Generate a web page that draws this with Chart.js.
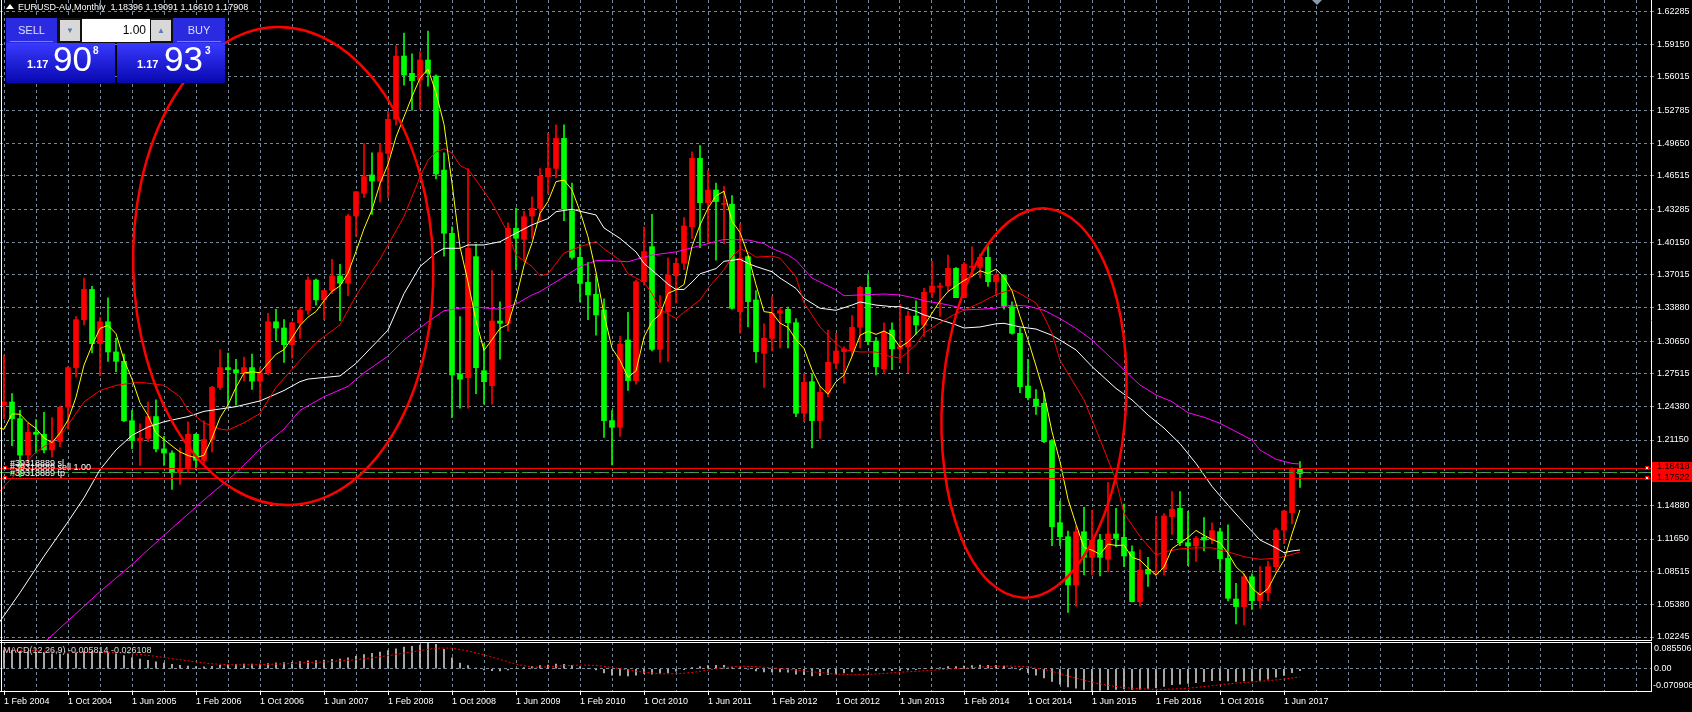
<!DOCTYPE html>
<html>
<head>
<meta charset="utf-8">
<title>EURUSD-AU,Monthly</title>
<script src="https://cdn.jsdelivr.net/npm/chart.js@4.4.1/dist/chart.umd.min.js"></script>
<style>
    html, body { margin: 0; padding: 0; background: #000; }
    body { position: relative; width: 1692px; height: 712px; overflow: hidden; font-family: "Liberation Sans", Arial, sans-serif; }
    canvas { position: absolute; left: 0; }
    #mainChart { top: 0; }
    #macdChart { top: 642px; }
    .hline { position: absolute; left: 0; width: 1652px; height: 1px; background: #fff; }
    .vline { position: absolute; left: 1px; top: 0; width: 1px; height: 691px; background: #fff; }
    .title { position: absolute; left: 18px; top: 2px; color: #fff; font-size: 9px; white-space: pre; }
    .tri { position: absolute; left: 6px; top: 4px; width: 0; height: 0; border-left: 4px solid transparent; border-right: 4px solid transparent; border-bottom: 5px solid #fff; }
    .marker { position: absolute; left: 1312px; top: 0; width: 0; height: 0; border-left: 5px solid transparent; border-right: 5px solid transparent; border-top: 5px solid #8a99ab; }
    /* one click trading panel */
    .oct { position: absolute; left: 6px; top: 18px; width: 219px; height: 65px; }
    .hdr { position: absolute; top: 0; height: 25px; background: #2a2ae0; color: #dcdcff; font-size: 11px; text-align: center; line-height: 25px; }
    .hdr i { position: absolute; left: 4px; right: 4px; bottom: 1px; height: 1px; background: #7b7bff; }
    .lot { position: absolute; left: 51px; top: 0; width: 116px; height: 25px; background: #101010; }
    .lot .btn { position: absolute; top: 2px; width: 20px; height: 21px; background: #d8d8d8; color: #5a7ab0; font-size: 8px; text-align: center; line-height: 21px; }
    .lot .val { position: absolute; left: 25px; top: 1px; width: 64px; height: 23px; background: #fff; color: #000; font-size: 12px; text-align: right; line-height: 23px; padding-right: 4px; }
    .px { position: absolute; top: 25px; height: 40px; background: linear-gradient(#3a3aff, #0707b0); color: #fff; }
    .px .s { position: absolute; top: 15px; font-size: 11px; font-weight: bold; }
    .px .b { position: absolute; top: -4px; font-size: 35px; }
    .px .u { position: absolute; top: 2px; font-size: 10px; font-weight: bold; }
</style>
</head>
<body>
<canvas id="mainChart" width="1692" height="640"></canvas>
<canvas id="macdChart" width="1692" height="70"></canvas>
<div class="hline" style="top:640px"></div>
<div class="vline"></div>
<div class="tri"></div>
<div class="title">EURUSD-AU,Monthly  1.18396 1.19091 1.16610 1.17908</div>
<div class="marker"></div>
<div class="oct">
    <div class="hdr" style="left:0;width:51px">SELL<i></i></div>
    <div class="lot">
        <div class="btn" style="left:3px">&#9660;</div>
        <div class="val">1.00</div>
        <div class="btn" style="left:94px">&#9650;</div>
    </div>
    <div class="hdr" style="left:167px;width:52px">BUY<i></i></div>
    <div class="px" style="left:0;width:109px">
        <span class="s" style="left:21px">1.17</span><span class="b" style="left:47px">90</span><span class="u" style="left:87px">8</span>
    </div>
    <div class="px" style="left:111px;width:108px">
        <span class="s" style="left:20px">1.17</span><span class="b" style="left:47px">93</span><span class="u" style="left:88px">3</span>
    </div>
</div>
<script>
// Monthly EURUSD candles, first bar = Feb 2004 (month index 0)
const firstYear = 2004;
const firstMonth = 1; // February, zero based
const monthNames = ["Jan", "Feb", "Mar", "Apr", "May", "Jun", "Jul", "Aug", "Sep", "Oct", "Nov", "Dec"];

const opens = [
    1.2450, 1.2480, 1.2320, 1.1970, 1.2190, 1.2170, 1.2020, 1.2100, 1.2430, 1.2810, 1.3270,
    1.3560, 1.3040, 1.3250, 1.2960, 1.2870, 1.2300, 1.2110, 1.2130, 1.2340, 1.2030, 1.1990, 1.1800,
    1.1840, 1.2170, 1.1920, 1.2120, 1.2620, 1.2810, 1.2790, 1.2760, 1.2810, 1.2680, 1.2760, 1.3250,
    1.3190, 1.3030, 1.3240, 1.3360, 1.3650, 1.3460, 1.3550, 1.3690, 1.3620, 1.4265, 1.4483, 1.4659,
    1.4600, 1.4866, 1.5193, 1.5800, 1.5634, 1.5570, 1.5762, 1.5608, 1.4706, 1.4099, 1.2748, 1.2714,
    1.3875, 1.2780, 1.2636, 1.3257, 1.3235, 1.4147, 1.4041, 1.4265, 1.4338, 1.4642, 1.4722, 1.5010,
    1.4316, 1.3868, 1.3628, 1.3513, 1.3363, 1.2301, 1.2237, 1.3075, 1.2685, 1.3635, 1.3971, 1.2985,
    1.3347, 1.3692, 1.3811, 1.4162, 1.4818, 1.4393, 1.4514, 1.4377, 1.4379, 1.3347, 1.3875, 1.3459,
    1.2947, 1.3091, 1.3331, 1.3369, 1.3241, 1.2371, 1.2675, 1.2301, 1.2573, 1.2851, 1.2963, 1.2979,
    1.3197, 1.3580, 1.3065, 1.2797, 1.3171, 1.2990, 1.3011, 1.3305, 1.3219, 1.3533, 1.3580, 1.3593,
    1.3763, 1.3481, 1.3772, 1.3772, 1.3868, 1.3634, 1.3699, 1.3395, 1.3139, 1.2633, 1.2508, 1.2467,
    1.2109, 1.1322, 1.1187, 1.0724, 1.1235, 1.0989, 1.1155, 1.0970, 1.1213, 1.1181, 1.1043, 1.0563,
    1.0874, 1.0829, 1.0874, 1.1379, 1.1459, 1.1130, 1.1098, 1.1181, 1.1162, 1.1235, 1.0980, 1.0589,
    1.0516, 1.0803, 1.0573, 1.0650, 1.0899, 1.1251, 1.1418, 1.18396
];
const highs = [
    1.2930, 1.2560, 1.2400, 1.2280, 1.2310, 1.2380, 1.2330, 1.2440, 1.2820, 1.3300, 1.3670,
    1.3590, 1.3290, 1.3480, 1.3090, 1.2940, 1.2400, 1.2270, 1.2480, 1.2500, 1.2150, 1.2010, 1.2040,
    1.2290, 1.2180, 1.2300, 1.2630, 1.2980, 1.2950, 1.2890, 1.2910, 1.2940, 1.2810, 1.3330, 1.3370,
    1.3270, 1.3250, 1.3380, 1.3680, 1.3660, 1.3550, 1.3850, 1.3800, 1.4280, 1.4500, 1.4960, 1.4870,
    1.4960, 1.5270, 1.5900, 1.6020, 1.5820, 1.5840, 1.6040, 1.5620, 1.4870, 1.4160, 1.3300, 1.4720,
    1.3990, 1.3040, 1.3740, 1.3440, 1.4200, 1.4340, 1.4310, 1.4450, 1.4720, 1.5060, 1.5140, 1.5140,
    1.4580, 1.3990, 1.3820, 1.3690, 1.3470, 1.2397, 1.3110, 1.3340, 1.3650, 1.4160, 1.4280, 1.3500,
    1.3860, 1.3860, 1.4250, 1.4880, 1.4940, 1.4700, 1.4580, 1.4550, 1.4460, 1.4190, 1.3880, 1.3550,
    1.3230, 1.3490, 1.3380, 1.3390, 1.3280, 1.2750, 1.2750, 1.2630, 1.3170, 1.3140, 1.3010, 1.3310,
    1.3590, 1.3710, 1.3100, 1.3240, 1.3240, 1.3420, 1.3350, 1.3450, 1.3570, 1.3830, 1.3620, 1.3890,
    1.3770, 1.3820, 1.3970, 1.3900, 1.3990, 1.3710, 1.3700, 1.3440, 1.3190, 1.2890, 1.2600, 1.2570,
    1.2120, 1.1530, 1.1240, 1.1290, 1.1470, 1.1440, 1.1210, 1.1710, 1.1460, 1.1500, 1.1100, 1.1060,
    1.0990, 1.1380, 1.1410, 1.1620, 1.1620, 1.1430, 1.1190, 1.1370, 1.1320, 1.1270, 1.1300, 1.0740,
    1.0830, 1.0830, 1.0900, 1.0950, 1.1270, 1.1440, 1.1850, 1.19091
];
const lows = [
    1.2320, 1.2060, 1.1760, 1.1900, 1.1990, 1.1990, 1.1950, 1.2050, 1.2220, 1.2720, 1.3220,
    1.2950, 1.2730, 1.2870, 1.2770, 1.2290, 1.2030, 1.1870, 1.2100, 1.2000, 1.1870, 1.1640, 1.1690,
    1.1800, 1.1830, 1.1890, 1.2000, 1.2600, 1.2450, 1.2450, 1.2680, 1.2600, 1.2480, 1.2740, 1.3070,
    1.2860, 1.2900, 1.3090, 1.3320, 1.3410, 1.3270, 1.3520, 1.3260, 1.3500, 1.4070, 1.4440, 1.4280,
    1.4400, 1.4440, 1.5140, 1.5520, 1.5280, 1.5290, 1.5510, 1.4620, 1.3880, 1.2330, 1.2420, 1.2420,
    1.2560, 1.2460, 1.2460, 1.2890, 1.3160, 1.3750, 1.3830, 1.4050, 1.4210, 1.4480, 1.4630, 1.4220,
    1.3850, 1.3440, 1.3270, 1.3120, 1.2140, 1.1875, 1.2150, 1.2590, 1.2650, 1.3600, 1.2970, 1.2860,
    1.2870, 1.3430, 1.3750, 1.4050, 1.3960, 1.4000, 1.3840, 1.4000, 1.3370, 1.3140, 1.3200, 1.2860,
    1.2620, 1.2970, 1.3000, 1.3000, 1.2340, 1.2290, 1.2040, 1.2130, 1.2530, 1.2800, 1.2660, 1.2920,
    1.3000, 1.3030, 1.2740, 1.2750, 1.2790, 1.2860, 1.2760, 1.3130, 1.3110, 1.3480, 1.3300, 1.3540,
    1.3480, 1.3480, 1.3700, 1.3670, 1.3590, 1.3500, 1.3370, 1.3130, 1.2570, 1.2500, 1.2360, 1.2090,
    1.1100, 1.1100, 1.0460, 1.0520, 1.0820, 1.0820, 1.0810, 1.0850, 1.1090, 1.0900, 1.0560, 1.0520,
    1.0710, 1.0810, 1.0820, 1.1210, 1.1100, 1.0910, 1.0950, 1.1050, 1.1120, 1.0850, 1.0570, 1.0350,
    1.0340, 1.0490, 1.0500, 1.0570, 1.0840, 1.1120, 1.1310, 1.16610
];
const closes = [
    1.2480, 1.2320, 1.1970, 1.2190, 1.2170, 1.2020, 1.2100, 1.2430, 1.2810, 1.3270, 1.3560,
    1.3040, 1.3250, 1.2960, 1.2870, 1.2300, 1.2110, 1.2130, 1.2340, 1.2030, 1.1990, 1.1800, 1.1840,
    1.2170, 1.1920, 1.2120, 1.2620, 1.2810, 1.2790, 1.2760, 1.2810, 1.2680, 1.2760, 1.3250, 1.3190,
    1.3030, 1.3240, 1.3360, 1.3650, 1.3460, 1.3550, 1.3690, 1.3620, 1.4265, 1.4498, 1.4643, 1.4600,
    1.4873, 1.5193, 1.5800, 1.5618, 1.5564, 1.5762, 1.5634, 1.4668, 1.4099, 1.2739, 1.2698, 1.3955,
    1.2809, 1.2675, 1.3257, 1.3235, 1.4147, 1.4051, 1.4258, 1.4338, 1.4649, 1.4722, 1.5010, 1.4329,
    1.3868, 1.3618, 1.3507, 1.3315, 1.2301, 1.2237, 1.3036, 1.2685, 1.3635, 1.3923, 1.2985, 1.3369,
    1.3699, 1.3811, 1.4169, 1.4818, 1.4393, 1.4514, 1.4403, 1.4380, 1.3379, 1.3859, 1.3443, 1.2963,
    1.3091, 1.3331, 1.3356, 1.3241, 1.2371, 1.2669, 1.2301, 1.2573, 1.2861, 1.2969, 1.2988, 1.3197,
    1.3580, 1.3059, 1.2819, 1.3149, 1.2990, 1.3011, 1.3305, 1.3219, 1.3533, 1.3593, 1.3593, 1.3763,
    1.3481, 1.3801, 1.3780, 1.3868, 1.3634, 1.3699, 1.3401, 1.3139, 1.2627, 1.2521, 1.2441, 1.2099,
    1.1283, 1.1187, 1.0724, 1.1235, 1.0989, 1.1155, 1.0989, 1.1213, 1.1171, 1.1002, 1.0563, 1.0867,
    1.0829, 1.0835, 1.1386, 1.1450, 1.1130, 1.1098, 1.1171, 1.1155, 1.1245, 1.0976, 1.0596, 1.0516,
    1.0803, 1.0573, 1.0650, 1.0899, 1.1251, 1.1434, 1.1843, 1.17908
];

// Yellow moving average, one value per month starting at Jan 2004 (index -1)
const yellowMa = [
    1.2240, 1.2218, 1.2366, 1.2362, 1.2282, 1.2226, 1.2134, 1.2090, 1.2182, 1.2306, 1.2526, 1.2834,
    1.3022, 1.3186, 1.3216, 1.3136, 1.2884, 1.2698, 1.2474, 1.2350, 1.2182, 1.2120, 1.2058, 1.2000,
    1.1966, 1.1944, 1.1970, 1.2134, 1.2328, 1.2452, 1.2620, 1.2758, 1.2770, 1.2760, 1.2852, 1.2938,
    1.2982, 1.3094, 1.3214, 1.3294, 1.3348, 1.3452, 1.3542, 1.3594, 1.3717, 1.3925, 1.4143, 1.4325,
    1.4576, 1.4761, 1.5022, 1.5217, 1.5410, 1.5587, 1.5676, 1.5449, 1.5145, 1.4580, 1.3968, 1.3632,
    1.3260, 1.2975, 1.3079, 1.3186, 1.3225, 1.3473, 1.3790, 1.4006, 1.4289, 1.4404, 1.4595, 1.4610,
    1.4516, 1.4309, 1.4066, 1.3727, 1.3322, 1.2996, 1.2879, 1.2715, 1.2779, 1.3103, 1.3253, 1.3319,
    1.3522, 1.3557, 1.3607, 1.3973, 1.4178, 1.4341, 1.4459, 1.4502, 1.4214, 1.4107, 1.3893, 1.3605,
    1.3347, 1.3337, 1.3237, 1.3196, 1.3078, 1.2994, 1.2788, 1.2631, 1.2555, 1.2675, 1.2738, 1.2918,
    1.3119, 1.3159, 1.3129, 1.3161, 1.3119, 1.3006, 1.3055, 1.3135, 1.3212, 1.3332, 1.3449, 1.3540,
    1.3593, 1.3646, 1.3684, 1.3739, 1.3713, 1.3756, 1.3676, 1.3548, 1.3300, 1.3077, 1.2826, 1.2565,
    1.2194, 1.1906, 1.1547, 1.1306, 1.1084, 1.1058, 1.1018, 1.1116, 1.1103, 1.1106, 1.0988, 1.0963,
    1.0886, 1.0819, 1.0896, 1.1073, 1.1126, 1.1180, 1.1247, 1.1201, 1.1160, 1.1129, 1.1029, 1.0898,
    1.0827, 1.0693, 1.0628, 1.0688, 1.0835, 1.0961, 1.1215, 1.1444
];

// Slower averages at the listed month indexes
const redMaMonths = [-1, 0, 4, 7, 10, 12, 14, 17, 20, 22, 23, 25, 27, 28, 30, 32, 34, 37, 39, 42, 44, 47, 50, 52, 53, 54, 55, 56, 57, 58, 59, 61, 63, 64, 66, 67, 68, 70, 71, 72, 74, 75, 77, 78, 80, 81, 82, 84, 85, 87, 88, 90, 91, 92, 93, 94, 96, 97, 99, 100, 102, 104, 105, 107, 109, 110, 112, 113, 114, 115, 117, 119, 120, 122, 124, 126, 127, 129, 130, 131, 132, 135, 137, 139, 140, 142, 144, 145, 147, 149, 151, 152, 154, 155, 157, 159, 160, 162];
const redMaValues = [1.158, 1.167, 1.200, 1.215, 1.248, 1.259, 1.264, 1.267, 1.264, 1.253, 1.240, 1.228, 1.222, 1.221, 1.228, 1.237, 1.262, 1.288, 1.305, 1.322, 1.350, 1.385, 1.426, 1.464, 1.480, 1.488, 1.491, 1.487, 1.475, 1.471, 1.461, 1.439, 1.410, 1.389, 1.378, 1.369, 1.371, 1.391, 1.394, 1.397, 1.402, 1.395, 1.384, 1.371, 1.363, 1.352, 1.337, 1.328, 1.334, 1.346, 1.357, 1.375, 1.387, 1.395, 1.392, 1.387, 1.388, 1.386, 1.368, 1.343, 1.320, 1.304, 1.298, 1.296, 1.296, 1.293, 1.290, 1.296, 1.303, 1.314, 1.324, 1.333, 1.336, 1.343, 1.351, 1.356, 1.352, 1.343, 1.330, 1.314, 1.288, 1.250, 1.212, 1.173, 1.141, 1.119, 1.101, 1.104, 1.107, 1.108, 1.108, 1.106, 1.102, 1.0995, 1.097, 1.098, 1.0995, 1.104];

const whiteMaMonths = [-1, 2, 5, 8, 10, 12, 14, 16, 18, 20, 23, 25, 29, 32, 35, 37, 38, 42, 44, 48, 50, 52, 54, 55, 57, 58, 60, 62, 64, 66, 68, 69, 71, 72, 74, 75, 77, 79, 80, 82, 83, 84, 85, 86, 87, 89, 90, 92, 93, 94, 96, 97, 99, 100, 102, 104, 106, 107, 109, 111, 112, 114, 115, 117, 119, 120, 122, 124, 125, 127, 129, 131, 134, 136, 139, 141, 143, 145, 147, 149, 151, 153, 155, 157, 159, 160, 161, 162];
const whiteMaValues = [1.032, 1.065, 1.100, 1.133, 1.156, 1.183, 1.202, 1.216, 1.224, 1.229, 1.234, 1.239, 1.2435, 1.249, 1.259, 1.2675, 1.270, 1.273, 1.285, 1.317, 1.352, 1.378, 1.391, 1.3955, 1.3955, 1.3987, 1.3987, 1.4018, 1.410, 1.418, 1.424, 1.4306, 1.433, 1.431, 1.4275, 1.415, 1.405, 1.392, 1.381, 1.368, 1.361, 1.356, 1.356, 1.363, 1.371, 1.376, 1.383, 1.385, 1.381, 1.378, 1.373, 1.367, 1.357, 1.3475, 1.338, 1.336, 1.341, 1.344, 1.341, 1.3395, 1.3395, 1.335, 1.3315, 1.327, 1.322, 1.319, 1.320, 1.323, 1.3235, 1.320, 1.318, 1.312, 1.298, 1.282, 1.261, 1.250, 1.2355, 1.223, 1.208, 1.189, 1.167, 1.149, 1.132, 1.1155, 1.108, 1.1034, 1.105, 1.106];

const magentaMaMonths = [-1, 4, 8, 12, 16, 20, 25, 29, 32, 35, 37, 40, 43, 45, 48, 50, 53, 55, 57, 59, 62, 64, 66, 67, 70, 72, 74, 75, 78, 80, 81, 84, 85, 88, 90, 93, 95, 96, 98, 99, 101, 104, 105, 107, 110, 112, 114, 115, 117, 119, 120, 122, 124, 126, 128, 130, 132, 134, 136, 138, 140, 142, 144, 146, 148, 150, 152, 154, 156, 157, 159, 161, 162];
const magentaMaValues = [0.985, 1.010, 1.038, 1.066, 1.092, 1.120, 1.154, 1.180, 1.203, 1.222, 1.240, 1.253, 1.263, 1.276, 1.292, 1.3075, 1.325, 1.3356, 1.338, 1.339, 1.337, 1.342, 1.3507, 1.354, 1.368, 1.378, 1.3836, 1.384, 1.3826, 1.387, 1.389, 1.392, 1.394, 1.400, 1.404, 1.4035, 1.400, 1.3954, 1.389, 1.384, 1.367, 1.3555, 1.350, 1.3507, 1.3516, 1.3507, 1.3475, 1.345, 1.3427, 1.3395, 1.3363, 1.337, 1.338, 1.341, 1.340, 1.336, 1.328, 1.3187, 1.3075, 1.293, 1.2787, 1.2643, 1.2547, 1.2483, 1.2377, 1.2333, 1.2275, 1.2195, 1.2115, 1.2019, 1.193, 1.189, 1.1885];

// MACD(12,26,9): main line as histogram (one per month) and signal every 2 months
const macdMain = [
    0.058, 0.058, 0.056, 0.054, 0.052, 0.050, 0.048, 0.047, 0.048, 0.051,
    0.055, 0.056, 0.055, 0.052, 0.048, 0.042, 0.036, 0.031, 0.027, 0.022,
    0.018, 0.014, 0.011, 0.009, 0.007, 0.006, 0.008, 0.011, 0.013, 0.014,
    0.015, 0.015, 0.015, 0.017, 0.019, 0.020, 0.021, 0.023, 0.025, 0.026,
    0.028, 0.030, 0.031, 0.035, 0.040, 0.045, 0.049, 0.053, 0.058, 0.064,
    0.069, 0.072, 0.076, 0.0855, 0.078, 0.062, 0.035, 0.018, 0.010, 0.002,
    -0.004, -0.006, -0.007, -0.004, 0.000, 0.004, 0.007, 0.010, 0.012, 0.015,
    0.014, 0.011, 0.006, 0.001, -0.004, -0.013, -0.020, -0.021, -0.023, -0.020,
    -0.015, -0.017, -0.015, -0.012, -0.008, -0.003, 0.004, 0.007, 0.010, 0.011,
    0.011, 0.004, 0.003, -0.001, -0.007, -0.010, -0.010, -0.010, -0.011, -0.017,
    -0.019, -0.023, -0.022, -0.019, -0.016, -0.013, -0.010, -0.005, -0.004, -0.006,
    -0.005, -0.006, -0.006, -0.004, -0.003, 0.000, 0.003, 0.004, 0.007, 0.007,
    0.009, 0.010, 0.012, 0.011, 0.011, 0.009, 0.004, -0.004, -0.012, -0.020,
    -0.029, -0.040, -0.049, -0.058, -0.062, -0.066, -0.0709, -0.069, -0.067, -0.066,
    -0.064, -0.066, -0.065, -0.063, -0.061, -0.056, -0.051, -0.049, -0.047, -0.044,
    -0.041, -0.038, -0.037, -0.039, -0.040, -0.039, -0.039, -0.037, -0.033, -0.027,
    -0.021, -0.012, -0.005814
];
const macdSignal = [
    0.060, 0.059, 0.058, 0.056, 0.054, 0.053, 0.053, 0.052, 0.048, 0.043,
    0.036, 0.029, 0.022, 0.016, 0.013, 0.012, 0.013, 0.015, 0.017, 0.020,
    0.022, 0.025, 0.029, 0.035, 0.042, 0.050, 0.058, 0.066, 0.066, 0.057,
    0.044, 0.030, 0.015, 0.005, 0.006, 0.010, 0.012, 0.011, 0.004, -0.004,
    -0.011, -0.016, -0.016, -0.012, -0.004, 0.004, 0.008, 0.007, 0.003, -0.002,
    -0.007, -0.012, -0.017, -0.019, -0.018, -0.015, -0.011, -0.008, -0.005, -0.001,
    0.002, 0.005, 0.008, 0.009, 0.006, -0.002, -0.015, -0.030, -0.043, -0.053,
    -0.060, -0.064, -0.066, -0.065, -0.062, -0.057, -0.051, -0.046, -0.042, -0.038,
    -0.033, -0.026108
];

// Price axis labels and objects on the chart
const priceTicks = [1.62285, 1.59150, 1.56015, 1.52785, 1.49650, 1.46515, 1.43285, 1.40150, 1.37015, 1.33880, 1.30650, 1.27515, 1.24380, 1.21150, 1.18015, 1.14880, 1.11650, 1.08515, 1.05380, 1.02245];
const macdTicks = [0.085506, 0, -0.070908];
const stopLoss = 1.18418;
const takeProfit = 1.17522;
const orderPrice = 1.1812;
const orderTicket = "#39318889";
// ellipses: centre month, centre price, half width in months, half height in price, tilt
const ellipseMonths = [34.9, 128.75];
const ellipsePrices = [1.3785, 1.2470];
const ellipseHalfMonths = [18.75, 11.5];
const ellipseHalfPrices = [0.2294, 0.1871];
const ellipseTilts = [-0.03, 0.06];

const gridColor = "#778899";
const axisFont = { family: "Liberation Sans, Arial, sans-serif", size: 9 };
const xMin = -0.5;
const xMax = 205.875;
const gridMonths = [];
for (let m = 0; m <= 204; m += 4) gridMonths.push(m);

function monthLabel(m) {
    const total = firstMonth + m;
    return "1 " + monthNames[total % 12] + " " + (firstYear + Math.floor(total / 12));
}

function fixWidth(scale) {
    scale.width = 41;
    scale.paddingTop = 0;
    scale.paddingBottom = 0;
}

// draws ellipses, order lines and labels on top of the candles
const mainOverlay = {
    id: "mainOverlay",
    afterDatasetsDraw(chart) {
        const { ctx, chartArea: a, scales: { x, y } } = chart;
        ctx.save();
        ctx.beginPath();
        ctx.rect(a.left, a.top, a.right - a.left, a.bottom - a.top);
        ctx.clip();

        // order levels
        const yOrder = y.getPixelForValue(orderPrice);
        ctx.strokeStyle = "#2fa52f";
        ctx.lineWidth = 1;
        ctx.setLineDash([6, 3]);
        ctx.beginPath();
        ctx.moveTo(a.left, Math.round(yOrder) + 0.5);
        ctx.lineTo(a.right, Math.round(yOrder) + 0.5);
        ctx.stroke();
        ctx.setLineDash([]);
        ctx.strokeStyle = "#ff0000";
        [stopLoss, takeProfit].forEach(function (p) {
            const yy = Math.round(y.getPixelForValue(p)) + 0.5;
            ctx.beginPath();
            ctx.moveTo(a.left, yy);
            ctx.lineTo(a.right, yy);
            ctx.stroke();
        });
        [stopLoss, takeProfit].forEach(function (p) {
            const yy = Math.round(y.getPixelForValue(p));
            [a.left + 3, a.right - 6].forEach(function (xx) {
                ctx.fillStyle = "#ffffff";
                ctx.fillRect(xx, yy - 2, 4, 4);
                ctx.strokeStyle = "#ff0000";
                ctx.strokeRect(xx + 0.5, yy - 1.5, 3, 3);
            });
        });
        ctx.font = "9px Liberation Sans, Arial, sans-serif";
        ctx.fillStyle = "#ffffff";
        ctx.textBaseline = "alphabetic";
        ctx.fillText(orderTicket + " sl", a.left + 10, y.getPixelForValue(stopLoss) - 2);
        ctx.fillText(orderTicket + " sell 1.00", a.left + 10, yOrder - 2);
        ctx.fillText(orderTicket + " tp", a.left + 10, y.getPixelForValue(takeProfit) - 2);

        // hand drawn ellipses
        ctx.strokeStyle = "#ff0000";
        ctx.lineWidth = 2.5;
        ellipseMonths.forEach(function (m, i) {
            const cx = x.getPixelForValue(m);
            const cy = y.getPixelForValue(ellipsePrices[i]);
            const rx = x.getPixelForValue(m + ellipseHalfMonths[i]) - cx;
            const ry = cy - y.getPixelForValue(ellipsePrices[i] + ellipseHalfPrices[i]);
            ctx.beginPath();
            ctx.ellipse(cx, cy, rx, ry, ellipseTilts[i], 0, Math.PI * 2);
            ctx.stroke();
        });
        ctx.restore();
    },
    afterDraw(chart) {
        const { ctx, chartArea: a, scales: { y } } = chart;
        ctx.save();
        const ySl = Math.round(y.getPixelForValue(stopLoss));
        const yTp = Math.round(y.getPixelForValue(takeProfit));
        ctx.fillStyle = "#ff0000";
        ctx.fillRect(a.right + 1, ySl - 6, 41, yTp - ySl + 10);
        ctx.fillStyle = "#000000";
        ctx.font = "9px Liberation Sans, Arial, sans-serif";
        ctx.textBaseline = "middle";
        ctx.fillText(stopLoss.toFixed(5), a.right + 6, ySl - 1);
        ctx.fillText(takeProfit.toFixed(5), a.right + 6, yTp + 0);
        ctx.restore();
    },
};

const macdOverlay = {
    id: "macdOverlay",
    afterDraw(chart) {
        const { ctx, chartArea: a } = chart;
        ctx.save();
        ctx.strokeStyle = "#ffffff";
        ctx.lineWidth = 1;
        ctx.beginPath();
        ctx.moveTo(0, a.top + 0.5);
        ctx.lineTo(a.right, a.top + 0.5);
        ctx.stroke();
        ctx.font = "9px Liberation Sans, Arial, sans-serif";
        ctx.fillStyle = "#ffffff";
        ctx.textBaseline = "middle";
        ctx.fillText(macdTicks[0].toFixed(6), a.right + 3, a.top + 7);
        ctx.fillText("0.00", a.right + 3, chart.scales.y.getPixelForValue(0));
        ctx.fillText(macdTicks[2].toFixed(6), a.right + 2, a.bottom - 5);
        ctx.fillStyle = "#d8d8d8";
        ctx.fillText("MACD(12,26,9) " + macdMain[macdMain.length - 1].toFixed(6) + " " + macdSignal[macdSignal.length - 1].toFixed(6), a.left + 3, a.top + 9);
        ctx.restore();
    },
};

function buildMainChart() {
    const ctx = document.getElementById("mainChart");
    const candleColors = closes.map((c, i) => (c >= opens[i] ? "#ff0000" : "#00ff00"));
    new Chart(ctx, {
        type: "bar",
        data: {
            datasets: [
                {
                    type: "line",
                    data: yellowMa.map((v, i) => ({ x: i - 1, y: v })),
                    borderColor: "#ffff00",
                    borderWidth: 1,
                    pointRadius: 0,
                    order: 0,
                },
                {
                    type: "line",
                    data: redMaMonths.map((m, i) => ({ x: m, y: redMaValues[i] })),
                    borderColor: "#ff0000",
                    borderWidth: 1,
                    pointRadius: 0,
                    order: 0,
                },
                {
                    type: "line",
                    data: whiteMaMonths.map((m, i) => ({ x: m, y: whiteMaValues[i] })),
                    borderColor: "#ffffff",
                    borderWidth: 1,
                    pointRadius: 0,
                    order: 0,
                },
                {
                    type: "line",
                    data: magentaMaMonths.map((m, i) => ({ x: m, y: magentaMaValues[i] })),
                    borderColor: "#ff00ff",
                    borderWidth: 1,
                    pointRadius: 0,
                    order: 0,
                },
                {
                    // candle wicks
                    data: highs.map((h, i) => ({ x: i, y: [lows[i], h] })),
                    backgroundColor: candleColors,
                    barThickness: 1,
                    grouped: false,
                    order: 2,
                },
                {
                    // candle bodies
                    data: opens.map((o, i) => ({ x: i, y: [o, closes[i]] })),
                    backgroundColor: candleColors,
                    barThickness: 5,
                    minBarLength: 1,
                    grouped: false,
                    order: 1,
                },
            ],
        },
        options: {
            responsive: false,
            animation: false,
            layout: { padding: 0 },
            plugins: { legend: { display: false }, tooltip: { enabled: false } },
            scales: {
                x: {
                    type: "linear",
                    min: xMin,
                    max: xMax,
                    offset: false,
                    afterBuildTicks: (s) => { s.ticks = gridMonths.map((v) => ({ value: v })); },
                    ticks: { display: false },
                    grid: { color: gridColor, drawTicks: false, offset: false },
                    border: { display: false, dash: [3, 3] },
                    afterFit: (s) => { s.height = 0; s.paddingLeft = 0; s.paddingRight = 0; },
                },
                y: {
                    position: "right",
                    min: 1.019571,
                    max: 1.633779,
                    afterBuildTicks: (s) => { s.ticks = priceTicks.map((v) => ({ value: v })); },
                    ticks: {
                        color: "#ffffff",
                        font: axisFont,
                        padding: 3,
                        autoSkip: false,
                        callback: (v) => v.toFixed(5),
                    },
                    grid: { color: gridColor, tickLength: 3, tickColor: gridColor },
                    border: { color: "#ffffff", dash: [3, 3] },
                    afterFit: fixWidth,
                },
            },
        },
        plugins: [mainOverlay],
    });
}

function buildMacdChart() {
    const ctx = document.getElementById("macdChart");
    new Chart(ctx, {
        type: "bar",
        data: {
            datasets: [
                {
                    type: "line",
                    data: macdSignal.map((v, i) => ({ x: i * 2, y: v })),
                    borderColor: "#ff0000",
                    borderWidth: 1,
                    borderDash: [2, 2],
                    pointRadius: 0,
                    order: 0,
                },
                {
                    data: macdMain.map((v, i) => ({ x: i, y: v })),
                    backgroundColor: "#c8c8c8",
                    barThickness: 1,
                    grouped: false,
                    order: 1,
                },
            ],
        },
        options: {
            responsive: false,
            animation: false,
            layout: { padding: 0 },
            plugins: { legend: { display: false }, tooltip: { enabled: false } },
            scales: {
                x: {
                    type: "linear",
                    min: xMin,
                    max: xMax,
                    offset: false,
                    afterBuildTicks: (s) => { s.ticks = gridMonths.map((v) => ({ value: v })); },
                    ticks: {
                        color: "#ffffff",
                        font: axisFont,
                        align: "start",
                        padding: 1,
                        autoSkip: false,
                        maxRotation: 0,
                        minRotation: 0,
                        callback: (v) => (v % 8 === 0 && v <= opens.length - 1 ? monthLabel(v) : ""),
                    },
                    grid: {
                        color: gridColor,
                        offset: false,
                        tickLength: 4,
                        tickColor: (c) => (c.tick && c.tick.value % 8 === 0 && c.tick.value <= opens.length - 1 ? "#ffffff" : "rgba(0,0,0,0)"),
                    },
                    border: { color: "#ffffff", dash: [3, 3] },
                    afterFit: (s) => { s.height = 21; s.paddingLeft = 0; s.paddingRight = 0; },
                },
                y: {
                    position: "right",
                    min: macdTicks[2],
                    max: macdTicks[0],
                    afterBuildTicks: (s) => { s.ticks = [{ value: 0 }]; },
                    ticks: { display: false },
                    grid: { color: gridColor, drawTicks: false },
                    border: { color: "#ffffff", dash: [3, 3] },
                    afterFit: fixWidth,
                },
            },
        },
        plugins: [macdOverlay],
    });
}

document.addEventListener("DOMContentLoaded", function () {
    buildMainChart();
    buildMacdChart();
});
</script>
</body>
</html>
